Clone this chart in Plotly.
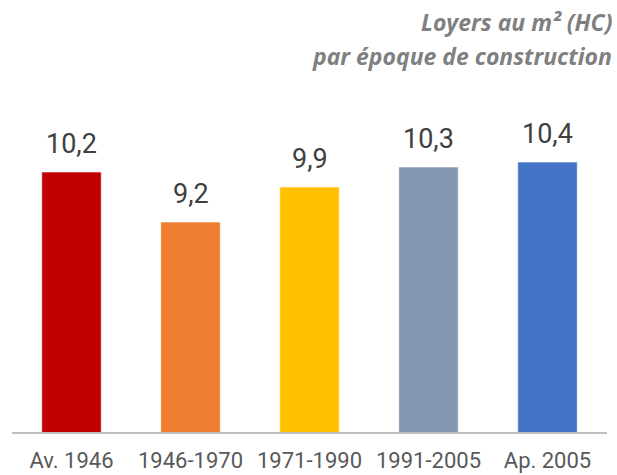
import plotly.graph_objects as go

categories = ["Av. 1946", "1946-1970", "1971-1990", "1991-2005", "Ap. 2005"]
values = [10.2, 9.2, 9.9, 10.3, 10.4]
labels = ["10,2", "9,2", "9,9", "10,3", "10,4"]
colors = ["#C00000", "#ED7D31", "#FFC000", "#8497B0", "#4472C4"]

fig = go.Figure()
fig.add_trace(go.Bar(
    x=categories, y=values,
    marker=dict(color=colors, line=dict(color="rgba(255,255,255,0.6)", width=1)),
    width=0.5, hoverinfo="skip",
))

for c, v, t in zip(categories, values, labels):
    fig.add_annotation(x=c, y=v, text=t, showarrow=False, xref="x", yref="y",
                       yanchor="bottom", yshift=10,
                       font=dict(family="Roboto", size=27, color="#404040"))

fig.add_annotation(xref="paper", yref="paper", x=1, y=1, xanchor="right", yanchor="bottom",
                   xshift=7, yshift=42, text="<b><i>Loyers au m² (HC)</i></b>", showarrow=False,
                   font=dict(family="Open Sans", size=23, color="#808080"))
fig.add_annotation(xref="paper", yref="paper", x=1, y=1, xanchor="right", yanchor="bottom",
                   xshift=7, yshift=8, text="<b><i>par époque de construction</i></b>", showarrow=False,
                   font=dict(family="Open Sans", size=23, color="#808080"))

fig.update_layout(
    template="none",
    width=617, height=475,
    margin=dict(l=12, r=10, t=82, b=43),
    paper_bgcolor="white", plot_bgcolor="white",
    showlegend=False, bargap=0.5,
    xaxis=dict(showgrid=False, showline=True, linecolor="#BFBFBF", linewidth=2,
               ticks="", ticklabelstandoff=8, automargin=False,
               tickfont=dict(family="Roboto", size=22, color="#595959")),
    yaxis=dict(range=[5, 12], visible=False, showgrid=False, zeroline=False, automargin=False),
)

fig.write_html("out.html", config={"displayModeBar": False},
               post_script="document.body.style.margin='0';document.body.style.padding='0';")
